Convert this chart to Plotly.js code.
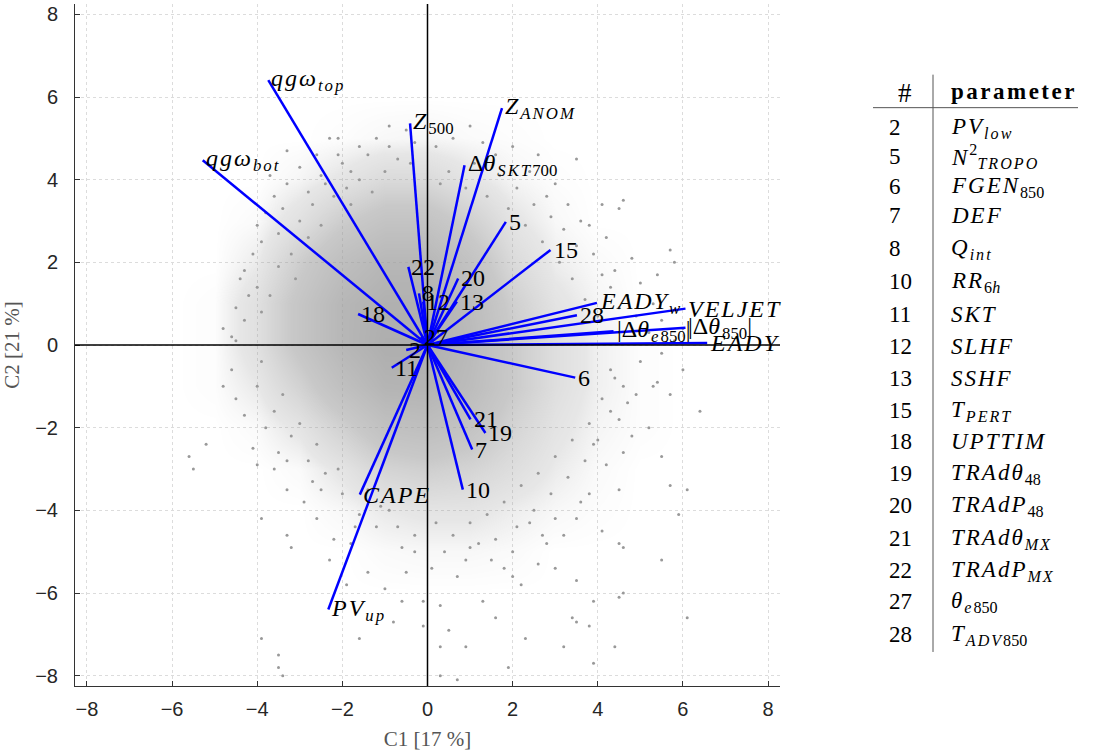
<!DOCTYPE html>
<html>
<head>
<meta charset="utf-8">
<script src="https://cdn.plot.ly/plotly-3.0.1.min.js"></script>
<style>
html,body{margin:0;padding:0;background:#fff;}
#chart{width:1094px;height:753px;}
.annotation-text tspan[style*="italic"]{letter-spacing:2px;}
.annotation-text tspan[style*="bold"]{letter-spacing:2.5px;}
</style>
</head>
<body>
<div id="chart"></div>
<script>
// ---------- DATA ----------
// Loading vectors (C1, C2) and their labels
const vecLabels = [
  "<i>qgω</i><sub><i>top</i></sub>", "<i>qgω</i><sub><i>bot</i></sub>", "<i>Z</i><sub>500</sub>",
  "<i>Z</i><sub><i>ANOM</i></sub>", "Δ<i>θ</i><sub><i>SKT</i>700</sub>", "5", "15", "22", "20",
  "8", "12", "13", "18", "27", "2", "11", "<i>EADY</i><sub><i>w</i></sub>", "28",
  "<i>VELJET</i>", "|Δ<i>θ</i><sub><i>e</i>850</sub>|", "|Δ<i>θ</i><sub>850</sub>|", "<i>EADY</i>",
  "6", "21", "19", "7", "10", "<i>CAPE</i>", "<i>PV</i><sub><i>up</i></sub>"
];
const vecC1 = [-3.74, -5.28, -0.41, 1.75, 0.87, 1.84, 2.89, -0.45, 0.72,
  -0.2, -0.1, 0.69, -1.63, -0.15, -0.5, -0.84, 3.98, 3.51,
  6.06, 4.37, 6.06, 6.57,
  3.47, 1.01, 1.36, 1.05, 0.83, -1.59, -2.33];
const vecC2 = [6.41, 4.47, 5.36, 5.73, 4.35, 2.98, 2.30, 1.89, 1.61,
  1.25, 1.05, 1.05, 0.75, 0.2, -0.12, -0.55, 1.02, 0.72,
  0.88, 0.33, 0.42, 0.05,
  -0.79, -1.80, -2.13, -2.53, -3.50, -3.62, -6.40];

// Score density (fraction of area covered by grey points)
const densC1 = [-6, -5, -4, -3, -2, -1, 0, 1, 2, 3, 4, 5, 6];
const densC2 = [6, 5, 4, 3, 2, 1, 0, -1, -2, -3, -4, -5, -6, -7];
const dens_y6  = [0,0,0,0,0,0,0,0,0,0,0,0,0];
const dens_y5  = [0,0,0,0,0.01,0.03,0.04,0.02,0.01,0,0,0,0];
const dens_y4  = [0,0,0,0.04,0.12,0.22,0.22,0.12,0.04,0.01,0,0,0];
const dens_y3  = [0,0,0.02,0.16,0.36,0.5,0.5,0.33,0.12,0.03,0,0,0];
const dens_y2  = [0,0,0.08,0.35,0.6,0.75,0.75,0.52,0.22,0.07,0.02,0,0];
const dens_y1  = [0,0.01,0.16,0.46,0.75,0.88,0.88,0.65,0.33,0.13,0.04,0,0];
const dens_y0  = [0,0.01,0.16,0.46,0.75,0.92,0.92,0.7,0.38,0.18,0.06,0.01,0];
const dens_ym1 = [0,0.01,0.09,0.3,0.58,0.8,0.82,0.65,0.38,0.18,0.06,0.01,0];
const dens_ym2 = [0,0,0.02,0.12,0.32,0.55,0.6,0.5,0.28,0.13,0.04,0.01,0];
const dens_ym3 = [0,0,0,0.02,0.12,0.28,0.33,0.28,0.18,0.08,0.02,0,0];
const dens_ym4 = [0,0,0,0,0.03,0.09,0.12,0.12,0.07,0.03,0.01,0,0];
const dens_ym5 = [0,0,0,0,0,0.02,0.03,0.03,0.02,0,0,0,0];
const dens_ym6 = [0,0,0,0,0,0,0,0,0,0,0,0,0];
const dens_ym7 = [0,0,0,0,0,0,0,0,0,0,0,0,0];

// Individual score points (C1, C2)
const ptsC1 = [
  -0.9,-1.2,-2.3,-2.1,-0.5,-1.6,-2.6,-3.3,-3.0,-2.0,-1.4,-3.6,-3.7,-3.3,-2.8,-4.0,-3.9,-4.3,-4.4,-4.1,-4.6,-4.5,-4.3,-4.5,-4.2,-3.8,-3.5,-3.4,-2.5,-1.8,-0.3,0.2,-4.8,-4.0,
  1.0,1.3,2.0,2.6,3.5,4.6,4.5,4.8,5.7,5.8,5.4,4.1,3.3,3.0,2.4,3.8,4.2,3.6,4.4,5.0,4.7,5.3,4.3,3.9,3.2,2.8,1.6,0.6,5.5,4.9,6.0,5.8,5.2,
  -5.6,-5.5,-5.2,-4.5,-4.3,-4.1,-4.0,-3.9,-3.3,-3.2,-3.9,-3.5,-3.5,-3.4,-1.6,-2.3,-1.4,-0.8,-0.5,-0.1,-0.1,-1.0,-2.6,-2.2,-3.6,-3.3,-2.9,-2.5,-1.8,-1.2,-0.6,-0.3,-1.9,-0.6,-4.6,-4.8,-3.8,-3.5,
  6.4,6.0,5.7,6.1,5.7,5.9,6.1,5.5,4.5,4.6,4.5,4.6,3.5,3.9,3.2,4.4,3.9,2.3,1.9,1.6,0.9,0.3,0.7,0.3,0.5,3.5,3.8,5.5,5.4,4.9,5.3,4.7,4.3,4.8,4.5,4.1,3.0,2.6,2.2,2.0,1.3,0.3,3.4,
  3.5,3.8,3.2,2.8,1.5,0.7,1.0,2.4,4.2,3.9,4.4,5.0,5.5,5.2,4.6,
  -2.4,-2.2,-1.9,-1.6,-1.3,-1.0,-0.7,-2.7,-3.0,-2.8,-3.2,-3.5,-3.7,-3.9,-2.1,-1.8,-0.4,-3.1,-2.5,-0.9,
  0.5,0.9,1.4,1.9,2.3,2.7,3.1,3.4,3.7,4.0,1.1,2.1,2.9,3.5,4.1,4.5,0.3,1.7,2.5,
  -4.0,-3.6,-3.2,-2.8,-2.4,-2.0,-1.6,-1.1,-0.7,-0.3,-3.9,-3.4,-3.0,-2.6,-2.1,-1.4,-0.9,-3.3,-2.7,-1.7,
  0.2,0.6,1.0,1.4,1.8,2.2,2.6,3.0,3.4,3.8,4.1,4.3,0.4,0.9,1.6,2.1,2.5,2.9,3.3,3.7,4.0,4.5,1.2,2.0,3.0,3.6,4.6,1.8,2.7,0.1
];
const ptsC2 = [
  5.3,5.0,5.0,5.0,5.2,4.8,4.6,4.7,4.3,4.4,4.6,3.6,4.1,3.9,3.7,2.9,2.5,1.8,1.6,2.2,0.2,0.1,0.6,0.9,1.2,3.2,2.7,3.3,4.1,4.2,4.9,4.8,0.4,1.4,
  5.3,4.9,4.8,4.6,4.5,3.5,3.3,2.1,2.3,2.0,1.7,3.4,3.4,3.9,4.2,2.9,2.6,3.0,1.8,1.5,1.2,1.0,1.4,2.2,2.8,3.6,4.6,5.0,0.6,0.7,0.4,0.1,0.3,
  -2.7,-3.0,-2.4,-1.3,-1.7,-2.5,-2.9,-4.2,-4.6,-4.9,-7.1,-7.5,-7.8,-8.0,-7.1,-5.2,-5.5,-6.7,-5.5,-6.2,-6.8,-5.9,-4.2,-4.7,-3.0,-3.5,-3.8,-3.5,-4.8,-4.4,-4.9,-5.0,-5.8,-6.2,-0.6,-1.0,-2.0,-2.6,
  -1.6,-0.6,-1.2,-3.5,-3.4,-4.1,-6.6,-5.2,-4.8,-4.9,-6.1,-6.0,-5.7,-6.2,-7.3,-7.3,-7.7,-7.1,-7.8,-6.6,-7.3,-7.3,-8.1,-8.0,-6.9,-6.7,-6.8,-2.7,-0.9,-1.2,-1.0,-1.4,-1.6,-2.2,-3.5,-4.5,-5.4,-5.3,-5.8,-5.6,-6.2,-6.3,-6.6,
  -4.2,-3.6,-4.6,-4.8,-5.2,-5.6,-4.9,-4.3,-2.9,-2.4,-0.8,-0.4,-0.2,-2.0,-2.6,
  3.9,3.6,3.8,4.0,3.7,4.2,4.5,3.4,3.0,2.6,2.2,1.9,1.2,0.8,4.6,3.4,4.4,1.6,2.9,4.8,
  4.2,3.8,3.6,3.3,2.9,2.5,2.0,1.6,1.1,0.7,4.4,3.8,3.1,2.4,1.7,0.9,3.9,4.1,3.4,
  -1.0,-1.6,-2.2,-2.8,-3.1,-3.6,-4.1,-3.9,-4.4,-4.6,-0.4,-1.2,-1.9,-2.4,-3.0,-3.5,-4.0,-2.8,-3.3,-4.4,
  -4.3,-4.6,-4.3,-4.1,-3.8,-3.4,-3.1,-2.7,-2.3,-1.9,-1.3,-0.6,-5.0,-5.2,-4.7,-4.4,-4.0,-3.6,-3.2,-2.8,-2.3,-1.8,-4.8,-5.0,-4.2,-3.8,-1.0,-5.4,-4.6,-5.4
];

// Axis ticks
const tickVals = [-8, -6, -4, -2, 0, 2, 4, 6, 8];
const xTitle = "C1 [17 %]";
const yTitle = "C2 [21 %]";

// Parameter table
const tableIds = ["2","5","6","7","8","10","11","12","13","15","18","19","20","21","22","27","28"];
const tableNames = [
  "<i>PV</i><sub><i>low</i></sub>",
  "<i>N</i><sup>2</sup><sub><i>TROPO</i></sub>",
  "<i>FGEN</i><sub>850</sub>",
  "<i>DEF</i>",
  "<i>Q</i><sub><i>int</i></sub>",
  "<i>RR</i><sub>6<i>h</i></sub>",
  "<i>SKT</i>",
  "<i>SLHF</i>",
  "<i>SSHF</i>",
  "<i>T</i><sub><i>PERT</i></sub>",
  "<i>UPTTIM</i>",
  "<i>TRAdθ</i><sub>48</sub>",
  "<i>TRAdP</i><sub>48</sub>",
  "<i>TRAdθ</i><sub><i>MX</i></sub>",
  "<i>TRAdP</i><sub><i>MX</i></sub>",
  "<i>θ</i><sub><i>e</i>850</sub>",
  "<i>T</i><sub><i>ADV</i>850</sub>"
];

// ---------- LAYOUT / DRAWING ----------
const W = 1094, H = 753;
const L = 75, R = 780, T = 4.4, B = 686;
const pxX = px => (px - L) / (R - L);
const pxY = py => (B - py) / (B - T);

const densZ = [dens_y6, dens_y5, dens_y4, dens_y3, dens_y2, dens_y1, dens_y0,
               dens_ym1, dens_ym2, dens_ym3, dens_ym4, dens_ym5, dens_ym6, dens_ym7];

const traces = [];
traces.push({
  type: 'heatmap', x: densC1, y: densC2, z: densZ, zmin: 0, zmax: 1,
  zsmooth: 'best', showscale: false, hoverinfo: 'skip',
  colorscale: [[0, 'rgba(155,155,155,0)'], [0.1, 'rgba(155,155,155,0.25)'],
               [0.4, 'rgba(155,155,155,0.55)'], [1, 'rgba(155,155,155,0.85)']]
});
traces.push({
  type: 'scatter', mode: 'markers', x: ptsC1, y: ptsC2, hoverinfo: 'skip',
  marker: {size: 3, color: '#999999'}
});
const vx = [], vy = [];
for (let i = 0; i < vecC1.length; i++) {
  vx.push(0, vecC1[i], null);
  vy.push(0, vecC2[i], null);
}
traces.push({
  type: 'scatter', mode: 'lines', x: vx, y: vy, hoverinfo: 'skip',
  line: {color: '#0000ff', width: 2.5}
});

const serif = "Liberation Serif, DejaVu Serif, serif";
const annotations = [];
for (let i = 0; i < vecLabels.length; i++) {
  annotations.push({
    x: vecC1[i], y: vecC2[i], xref: 'x', yref: 'y', text: vecLabels[i],
    showarrow: false, xanchor: 'left', yanchor: 'middle', xshift: 1,
    font: {family: serif, size: 24, color: '#000'}
  });
}
// table
const rowPix = [128, 157, 187, 216, 249, 282, 315, 347, 379, 411, 442, 474, 506, 539, 571, 602, 635];
annotations.push({x: pxX(905), y: pxY(93), xref: 'paper', yref: 'paper', text: '#', showarrow: false,
  xanchor: 'center', yanchor: 'middle', font: {family: serif, size: 27, color: '#000'}});
annotations.push({x: pxX(949), y: pxY(92), xref: 'paper', yref: 'paper', text: '<b>parameter</b>', showarrow: false,
  xanchor: 'left', yanchor: 'middle', font: {family: serif, size: 23, color: '#000'}});
for (let i = 0; i < tableIds.length; i++) {
  annotations.push({x: pxX(887), y: pxY(rowPix[i]), xref: 'paper', yref: 'paper', text: tableIds[i],
    showarrow: false, xanchor: 'left', yanchor: 'middle', font: {family: serif, size: 23, color: '#000'}});
  annotations.push({x: pxX(949), y: pxY(rowPix[i]), xref: 'paper', yref: 'paper', text: tableNames[i],
    showarrow: false, xanchor: 'left', yanchor: 'middle', font: {family: serif, size: 23, color: '#000'}});
}

const shapes = [
  {type: 'line', xref: 'x', yref: 'paper', x0: 0, x1: 0, y0: 0, y1: 1, line: {color: '#000', width: 1.5}, layer: 'above'},
  {type: 'line', xref: 'paper', yref: 'y', x0: 0, x1: 1, y0: 0, y1: 0, line: {color: '#000', width: 1.5}, layer: 'above'},
  {type: 'line', xref: 'paper', yref: 'paper', x0: pxX(933), x1: pxX(933), y0: pxY(75), y1: pxY(652), line: {color: '#555', width: 1}},
  {type: 'line', xref: 'paper', yref: 'paper', x0: pxX(873), x1: pxX(1078), y0: pxY(108), y1: pxY(108), line: {color: '#555', width: 1}}
];

const axisCommon = {
  tickvals: tickVals, ticks: 'inside', ticklen: 5, tickcolor: '#333',
  showline: true, linecolor: '#333', linewidth: 1, mirror: false,
  showgrid: true, gridcolor: '#dcdcdc', griddash: 'dot', gridwidth: 1,
  zeroline: false,
  tickfont: {family: 'Liberation Sans, Arial, sans-serif', size: 20, color: '#262626'}
};

const layout = {
  width: W, height: H,
  margin: {l: L, r: W - R, t: T, b: H - B, pad: 0},
  paper_bgcolor: '#fff', plot_bgcolor: '#fff',
  showlegend: false,
  xaxis: Object.assign({}, axisCommon, {
    range: [-8.28, 8.28], ticklabelstandoff: 5,
    title: {text: xTitle, standoff: 12, font: {family: serif, size: 21, color: '#555'}}
  }),
  yaxis: Object.assign({}, axisCommon, {
    range: [-8.25, 8.25], ticklabelstandoff: 12,
    title: {text: yTitle, standoff: 9, font: {family: serif, size: 21, color: '#555'}}
  }),
  annotations: annotations,
  shapes: shapes
};

Plotly.newPlot('chart', traces, layout, {displayModeBar: false, staticPlot: true});
</script>
</body>
</html>
